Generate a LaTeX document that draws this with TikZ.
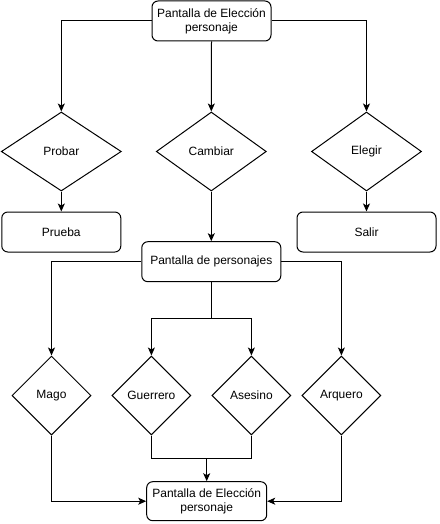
\documentclass[tikz,border=0pt]{standalone}
\usepackage{fontspec}
\setmainfont{Liberation Sans}
\usetikzlibrary{shapes.geometric,arrows.meta}
\begin{document}
\begin{tikzpicture}[x=1pt,y=-1pt,
  every node/.style={font=\fontsize{12}{14}\selectfont},
  box/.style={draw,line width=1pt,rounded corners=6pt,inner sep=0pt,align=center},
  dec/.style={draw,line width=1pt,diamond,inner sep=0pt,aspect=1.5},
  conn/.style={line width=1pt},
  arr/.style={conn,-{Stealth[length=8pt,width=7pt,inset=2pt]}}]
\useasboundingbox (0,0) rectangle (439,524);
% nodes
\node[box,minimum width=119pt,minimum height=40pt] (top) at (211.5,21) {Pantalla de Elección\\personaje};
\node[dec,minimum width=120pt,minimum height=79pt] (probar) at (61.3,151.5) {Probar};
\node[dec,minimum width=110pt,minimum height=79pt] (cambiar) at (211.3,151.5) {Cambiar};
\node[dec,minimum width=110pt,minimum height=79pt] (elegir) at (366.5,151.5) {Elegir};
\node[box,minimum width=119pt,minimum height=40pt] (prueba) at (61.3,232) {Prueba};
\node[box,minimum width=139pt,minimum height=40pt] (salir) at (366.5,232) {Salir};
\node[box,minimum width=139pt,minimum height=40pt] (pdp) at (211.3,261.7) {Pantalla de personajes};
\node[dec,minimum width=79pt,minimum height=79pt] (mago) at (51.5,395.5) {Mago};
\node[dec,minimum width=79pt,minimum height=79pt] (guerrero) at (151.4,395.5) {Guerrero};
\node[dec,minimum width=79pt,minimum height=79pt] (asesino) at (251.4,395.5) {Asesino};
\node[dec,minimum width=79pt,minimum height=79pt] (arquero) at (341.4,395.5) {Arquero};
\node[box,minimum width=120pt,minimum height=39pt] (final) at (206.7,501.2) {Pantalla de Elección\\personaje};
\coordinate (split) at (211.3,318.3);
\coordinate (join) at (206.7,458.3);
% connectors
\draw[arr] (top.west) -| (probar.north);
\draw[arr] (top.south) -- (cambiar.north);
\draw[arr] (top.east) -| (elegir.north);
\draw[arr] (probar.south) -- (prueba.north);
\draw[arr] (elegir.south) -- (salir.north);
\draw[arr] (cambiar.south) -- (pdp.north);
\draw[arr] (pdp.west) -| (mago.north);
\draw[arr] (pdp.east) -| (arquero.north);
\draw[conn] (pdp.south) -- (split);
\draw[arr] (split) -| (guerrero.north);
\draw[arr] (split) -| (asesino.north);
\draw[conn] (guerrero.south) |- (join) -| (asesino.south);
\draw[arr] (join) -- (final.north);
\draw[arr] (mago.south) |- (final.west);
\draw[arr] (arquero.south) |- (final.east);
\end{tikzpicture}
\end{document}
